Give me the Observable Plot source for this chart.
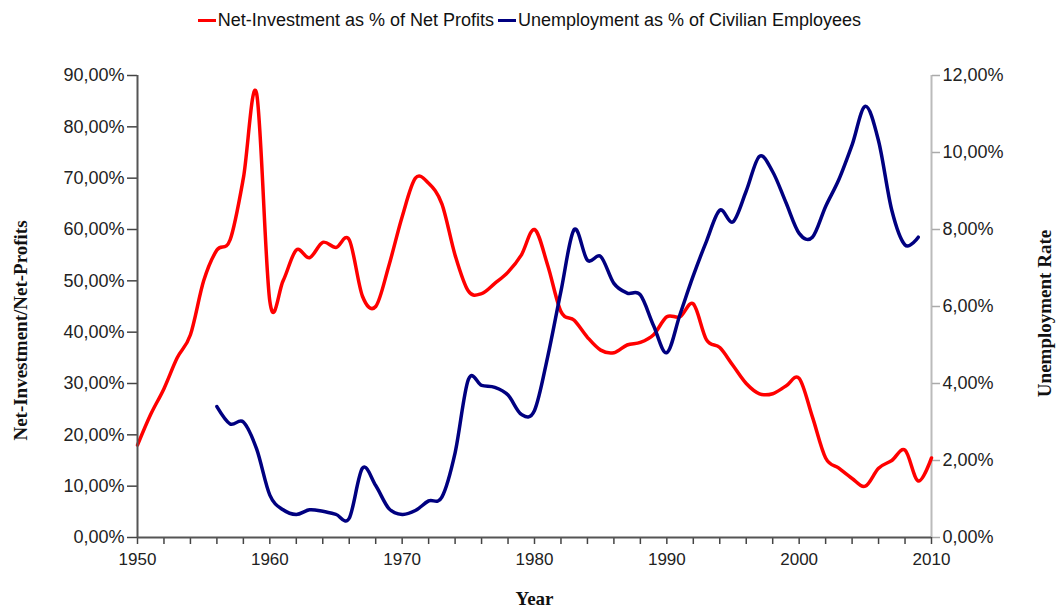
<!DOCTYPE html>
<html>
<head>
<meta charset="utf-8">
<script src="https://cdn.jsdelivr.net/npm/d3@7"></script>
<script src="https://cdn.jsdelivr.net/npm/@observablehq/plot@0.6"></script>
<style>
  html, body { margin: 0; padding: 0; background: #fff; }
  #legend { height: 40px; display: flex; justify-content: center; align-items: center;
    font-family: "Liberation Sans", Arial, sans-serif; font-size: 18px; color: #111; padding-left: 2px; }
  .sw { display: inline-block; width: 18px; height: 3px; margin-right: 2px; vertical-align: middle; }
  .item { display: inline-flex; align-items: center; margin: 0 2px; }
</style>
</head>
<body>
<div id="legend">
  <span class="item"><span class="sw" style="background:#ff0000"></span>Net-Investment as % of Net Profits</span>
  <span class="item"><span class="sw" style="background:#000080"></span>Unemployment as % of Civilian Employees</span>
</div>
<div id="chart"></div>
<script>
const investYears = d3.range(1950, 2011);
const netInvestment = [
  18, 24, 29, 35, 39.5, 50, 56, 58, 70, 86.5,
  46, 50, 56, 54.5, 57.5, 56.5, 58, 47, 45, 53,
  62.5, 70, 69, 65, 55, 48, 47.5, 49.5, 51.7, 55,
  60, 53, 44, 42.3, 39, 36.5, 36, 37.5, 38, 39.5,
  43, 43, 45.5, 38.5, 37, 33.5, 30, 28, 28, 29.5,
  31, 23.5, 15.5, 13.5, 11.5, 10, 13.5, 15, 17, 11,
  15.5
];
const unempYears = d3.range(1956, 2010);
const unemployment = [
  3.4, 2.95, 3.0, 2.3,
  1.1, 0.72, 0.6, 0.72, 0.68, 0.6, 0.5, 1.8, 1.35, 0.75,
  0.6, 0.7, 0.95, 1.05, 2.2, 4.1, 3.95, 3.9, 3.7, 3.2,
  3.3, 4.7, 6.4, 8.0, 7.2, 7.3, 6.6, 6.35, 6.3, 5.5,
  4.8, 5.8, 6.8, 7.7, 8.5, 8.2, 9.0, 9.9, 9.5, 8.7,
  7.9, 7.8, 8.6, 9.3, 10.2, 11.2, 10.3, 8.5, 7.6, 7.8
];
const leftTicks = d3.range(0, 91, 10);
const rightTicks = d3.range(0, 13, 2);
const xTicks = d3.range(1950, 2011, 2);

const k = 90 / 12; // right axis -> left axis scale factor
const redData = investYears.map((y, i) => ({year: y, v: netInvestment[i]}));
const blueData = unempYears.map((y, i) => ({year: y, v: unemployment[i] * k}));
const fmt = v => v.toFixed(2).replace(".", ",") + "%";
const serif = "'Liberation Serif', 'Times New Roman', serif";

const chart = Plot.plot({
  width: 1057,
  height: 569,
  marginTop: 35,
  marginBottom: 72,
  marginLeft: 137,
  marginRight: 126,
  style: {fontFamily: "'Liberation Sans', Arial, sans-serif", color: "#222", background: "#fff"},
  x: {domain: [1950, 2010]},
  y: {domain: [0, 90]},
  marks: [
    Plot.ruleX([2010], {stroke: "#bbbbbb", strokeWidth: 2}),
    Plot.axisY(leftTicks, {anchor: "left", tickSize: 10, tickPadding: 3, tickFormat: fmt,
      fontSize: 18, stroke: "#444", strokeWidth: 1.5, label: null}),
    Plot.axisY(rightTicks.map(d => d * k), {anchor: "right", tickSize: 8, tickPadding: 3,
      tickFormat: d => fmt(d / k), fontSize: 18, stroke: "#aaaaaa", strokeWidth: 1.5, label: null}),
    Plot.axisX(xTicks, {anchor: "bottom", tickSize: 7, tickPadding: 8,
      tickFormat: d => d % 10 === 0 ? String(d) : "", fontSize: 17, stroke: "#444", strokeWidth: 1.5, label: null}),
    Plot.line(redData, {x: "year", y: "v", stroke: "#ff0000", strokeWidth: 3.5, curve: "cardinal"}),
    Plot.line(blueData, {x: "year", y: "v", stroke: "#000080", strokeWidth: 3.5, curve: "cardinal"}),
    Plot.ruleX([1950], {stroke: "#555", strokeWidth: 2}),
    Plot.ruleY([0], {stroke: "#555", strokeWidth: 2}),
    Plot.text(["Net-Investment/Net-Profits"], {frameAnchor: "left", dx: -117, dy: 24, rotate: -90,
      textAnchor: "middle", fontFamily: serif, fontWeight: "bold", fontSize: 19, fill: "#111"}),
    Plot.text(["Unemployment Rate"], {frameAnchor: "right", dx: 113, dy: 7, rotate: -90,
      textAnchor: "middle", fontFamily: serif, fontWeight: "bold", fontSize: 19, fill: "#111"}),
    Plot.text(["Year"], {frameAnchor: "bottom", dy: 67,
      fontFamily: serif, fontWeight: "bold", fontSize: 19, fill: "#111"})
  ]
});
document.getElementById("chart").appendChild(chart);
</script>
</body>
</html>
